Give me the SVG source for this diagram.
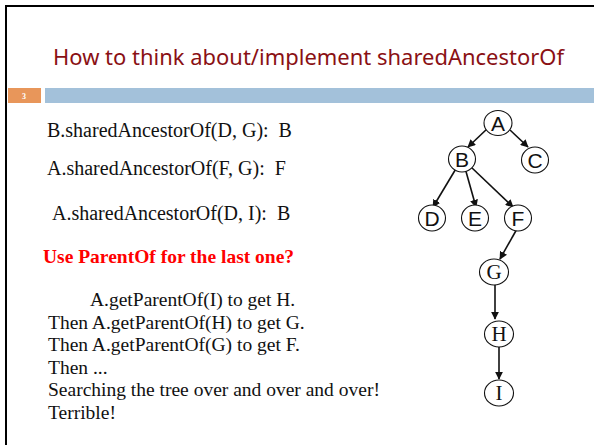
<svg xmlns="http://www.w3.org/2000/svg" width="594" height="445" viewBox="0 0 594 445">
  <style>
    .title { font-family: "Noto Sans", "Liberation Sans", sans-serif; font-size: 22px; fill: #8a1014; }
    .body { font-family: "Liberation Serif", "Times New Roman", serif; font-size: 19.5px; fill: #111; white-space: pre; }
    .big { font-size: 20px; }
    .red { font-family: "Liberation Serif", "Times New Roman", serif; font-weight: bold; font-size: 19.5px; fill: #f00; }
    .node ellipse { fill: #fff; stroke: #111; stroke-width: 1.1; }
    .sans { font-family: "Liberation Sans", Arial, sans-serif; font-size: 21px; fill: #111; text-anchor: middle; }
    .serif { font-family: "Liberation Serif", "Times New Roman", serif; font-size: 21px; fill: #111; text-anchor: middle; }
    .edge { stroke: #111; stroke-width: 1.6; fill: none; marker-end: url(#arrow); }
  </style>
  <defs>
    <marker id="arrow" viewBox="0 0 10 10" refX="9" refY="5" markerWidth="5" markerHeight="5" orient="auto" markerUnits="strokeWidth">
      <path d="M0,0 L10,5 L0,10 z" fill="#111"/>
    </marker>
  </defs>

  <rect x="0" y="0" width="594" height="445" fill="#fff"/>
  <!-- slide frame -->
  <rect x="6" y="6" width="600" height="460" fill="none" stroke="#000" stroke-width="2"/>

  <!-- header -->
  <text class="title" x="53" y="65" textLength="511" lengthAdjust="spacingAndGlyphs">How to think about/implement sharedAncestorOf</text>
  <rect x="8" y="88" width="33" height="15" fill="#e8965a"/>
  <text x="22" y="99" font-family="Liberation Serif, serif" font-size="8" font-weight="bold" fill="#fff">3</text>
  <rect x="45" y="88" width="549" height="15" fill="#a3c1da"/>

  <!-- body text -->
  <text class="body big" x="47" y="137">B.sharedAncestorOf(D, G):  B</text>
  <text class="body big" x="47" y="175">A.sharedAncestorOf(F, G):  F</text>
  <text class="body big" x="52" y="220">A.sharedAncestorOf(D, I):  B</text>
  <text class="red" x="43" y="263">Use ParentOf for the last one?</text>
  <text class="body" x="90" y="306">A.getParentOf(I) to get H.</text>
  <text class="body" x="48" y="329">Then A.getParentOf(H) to get G.</text>
  <text class="body" x="48" y="351">Then A.getParentOf(G) to get F.</text>
  <text class="body" x="48" y="374">Then ...</text>
  <text class="body" x="48" y="396">Searching the tree over and over and over!</text>
  <text class="body" x="48" y="419">Terrible!</text>

  <!-- tree connectors -->
  <g id="connectors">
    <line class="edge" x1="488" y1="128" x2="468" y2="147"/>
    <line class="edge" x1="510" y1="130" x2="528" y2="147"/>
    <line class="edge" x1="457" y1="167" x2="433" y2="207"/>
    <line class="edge" x1="465" y1="168" x2="476" y2="207"/>
    <line class="edge" x1="471" y1="167" x2="513" y2="207"/>
    <line class="edge" x1="518" y1="227" x2="500" y2="259"/>
    <line class="edge" x1="495" y1="285" x2="495" y2="319"/>
    <line class="edge" x1="499" y1="347" x2="499" y2="379"/>
  </g>

  <!-- tree nodes -->
  <g id="node-A" class="node"><ellipse cx="498" cy="123" rx="14" ry="12.5"/><text class="sans" x="498" y="130.5">A</text></g>
  <g id="node-B" class="node"><ellipse cx="462" cy="159" rx="13.5" ry="13"/><text class="sans" x="462" y="166.5">B</text></g>
  <g id="node-C" class="node"><ellipse cx="535" cy="160" rx="13.5" ry="13"/><text class="sans" x="535" y="167.5">C</text></g>
  <g id="node-D" class="node"><ellipse cx="432" cy="218" rx="13.5" ry="13"/><text class="sans" x="432" y="225.5">D</text></g>
  <g id="node-E" class="node"><ellipse cx="475" cy="218" rx="13.5" ry="13"/><text class="sans" x="475" y="225.5">E</text></g>
  <g id="node-F" class="node"><ellipse cx="518" cy="218" rx="13.5" ry="13"/><text class="sans" x="518" y="225.5">F</text></g>
  <g id="node-G" class="node"><ellipse cx="494" cy="272" rx="14.5" ry="13"/><text class="serif" x="494" y="279">G</text></g>
  <g id="node-H" class="node"><ellipse cx="499" cy="334" rx="14.5" ry="13"/><text class="serif" x="499" y="341">H</text></g>
  <g id="node-I" class="node"><ellipse cx="499" cy="393" rx="14.5" ry="13"/><text class="serif" x="499" y="400">I</text></g>
</svg>
